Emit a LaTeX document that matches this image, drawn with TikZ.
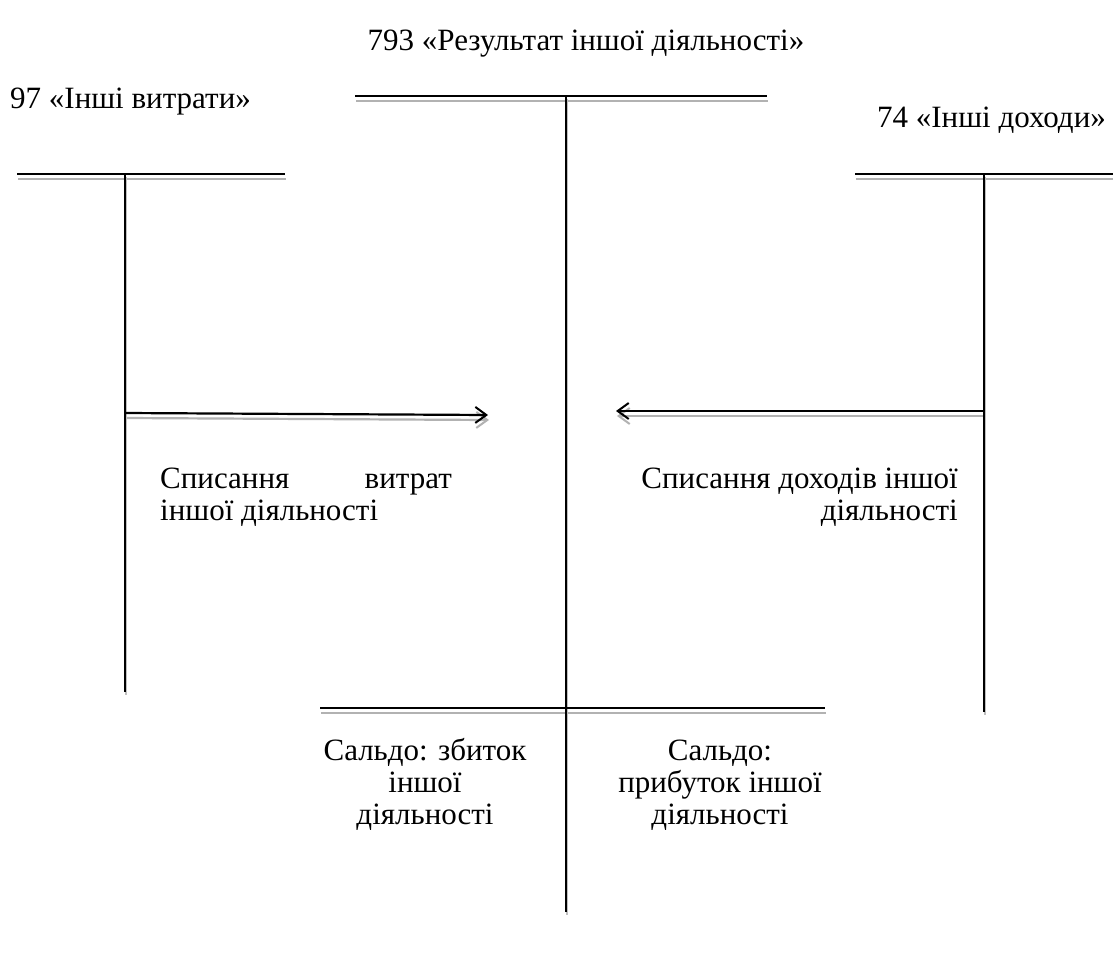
\documentclass[tikz,border=0pt]{standalone}
\usepackage{fontspec}
\setmainfont{Liberation Serif}
\usetikzlibrary{arrows.meta}
\tikzset{
  lbl/.style={inner sep=0pt, font=\fontsize{31}{32}\selectfont},
  acc/.style={line width=2.2pt, black},
  vacc/.style={line width=2.6pt, black},
  shd/.style={line width=2.2pt, gray!60},
  tip/.style={-{Straight Barb[length=11pt,width=16pt,line width=2pt]}},
}
\begin{document}
\begin{tikzpicture}[x=1pt,y=-1pt]
\useasboundingbox[fill=white] (0,0) rectangle (1113,969);
% coordinates
\coordinate (cTL) at (355,96);  \coordinate (cTR) at (767,96);
\coordinate (cTop) at (566,96); \coordinate (cBot) at (566,912);
\coordinate (lL) at (17,174);   \coordinate (lR) at (285,174);
\coordinate (lTop) at (125,174); \coordinate (lBot) at (125,692);
\coordinate (rL) at (855,174);  \coordinate (rR) at (1113,174);
\coordinate (rTop) at (984,174); \coordinate (rBot) at (984,712);
\coordinate (bL) at (320,708);  \coordinate (bR) at (825,708);
\coordinate (a1s) at (125,413); \coordinate (a1e) at (488,415);
\coordinate (a2s) at (984,411); \coordinate (a2e) at (616,411);
% shadows
\begin{scope}[transform canvas={shift={(1pt,-5pt)}}]
\draw[shd] (cTL) -- (cTR);
\draw[shd] (lL) -- (lR);
\draw[shd] (rL) -- (rR);
\draw[shd] (bL) -- (bR);
\draw[shd,tip,gray!60] (a1s) -- (a1e);
\draw[shd,tip,gray!60] (a2s) -- (a2e);
\end{scope}
\begin{scope}[transform canvas={shift={(1pt,-3pt)}}]
\draw[line width=2.6pt, gray!50] (cTop) -- (cBot);
\draw[line width=2.6pt, gray!50] (lTop) -- (lBot);
\draw[line width=2.6pt, gray!50] (rTop) -- (rBot);
\end{scope}
% accounts
\draw[acc] (cTL) -- (cTR);
\draw[acc] (lL) -- (lR);
\draw[acc] (rL) -- (rR);
\draw[acc] (bL) -- (bR);
\draw[vacc] (cTop) -- (cBot);
\draw[vacc] (lTop) -- (lBot);
\draw[vacc] (rTop) -- (rBot);
\draw[acc,tip] (a1s) -- (a1e);
\draw[acc,tip] (a2s) -- (a2e);
% labels
\node[lbl, anchor=base] (t0) at (586,50) {793 «Результат іншої діяльності»};
\node[lbl, anchor=base west] (t1) at (10,108) {97 «Інші витрати»};
\node[lbl, anchor=base east] (t2) at (1106,127) {74 «Інші доходи»};
\node[lbl, anchor=base west] (s1a) at (160,488) {Списання};
\node[lbl, anchor=base east] (s1b) at (452,488) {витрат};
\node[lbl, anchor=base west] (s1c) at (160,520) {іншої діяльності};
\node[lbl, anchor=base east] (s2a) at (958,488) {Списання доходів іншої};
\node[lbl, anchor=base east] (s2b) at (958,520) {діяльності};
\node[lbl, anchor=base] (b1a) at (425,760) {Сальдо: збиток};
\node[lbl, anchor=base] (b1b) at (425,792) {іншої};
\node[lbl, anchor=base] (b1c) at (425,824) {діяльності};
\node[lbl, anchor=base] (b2a) at (720,760) {Сальдо:};
\node[lbl, anchor=base] (b2b) at (720,792) {прибуток іншої};
\node[lbl, anchor=base] (b2c) at (720,824) {діяльності};
\end{tikzpicture}
\end{document}
